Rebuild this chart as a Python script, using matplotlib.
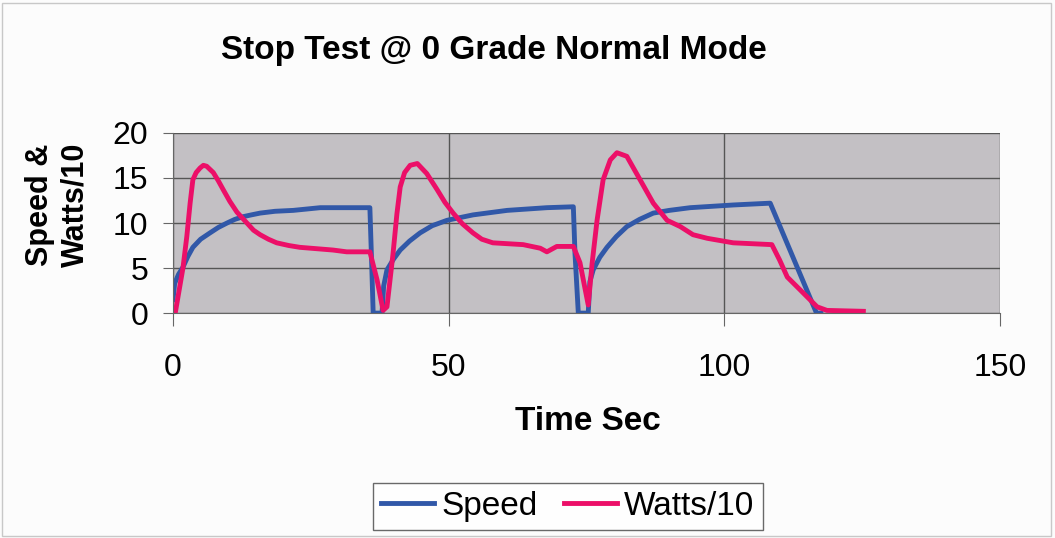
import matplotlib.pyplot as plt
import matplotlib.patches as patches

plt.rcParams['font.family'] = ['Liberation Sans', 'DejaVu Sans']

# speed trace
speed_t = [0, 0.3, 1.0, 1.8, 2.7, 3.6, 5.0, 6.7, 8.2, 9.8, 11.2, 12.7, 14.2, 15.8, 18.5,
           21.8, 26.7, 35.7, 36.0, 36.3,
           37.9, 38.2, 38.8, 40.0, 41.2, 42.9, 44.8, 47.0, 49.7, 54.4, 60.6, 67.8,
           72.6, 72.9, 73.5,
           75.3, 75.6, 76.2, 77.4, 78.7, 80.4, 82.3, 84.6, 87.1, 90.0, 93.8, 101.6,
           108.3, 116.7, 117.5]
speed_v = [1.5, 3.3, 4.3, 5.1, 6.3, 7.3, 8.2, 8.9, 9.5, 10.0, 10.4, 10.7, 10.9, 11.1, 11.3,
           11.4, 11.7, 11.7, 6.0, 0,
           0, 3.0, 4.8, 6.0, 7.0, 8.0, 8.9, 9.7, 10.3, 10.9, 11.4, 11.7,
           11.8, 6.6, 0,
           0, 3.5, 4.8, 6.2, 7.3, 8.5, 9.6, 10.4, 11.1, 11.4, 11.7, 12.0,
           12.2, 0, 0]

# watts / 10 trace
watts_t = [0.4, 1.8, 2.5, 3.1, 3.6, 4.2, 4.9, 5.5, 6.1, 7.3, 8.2, 9.1, 10.3, 11.6, 13.4,
           14.6, 15.8, 17.3, 18.8, 21.0, 23.0, 29.0, 31.5, 35.7, 37.0, 38.1, 38.8,
           39.9, 40.6, 41.2, 42.0, 43.0, 44.3, 46.0, 47.9, 49.3, 50.8, 52.5, 54.4,
           56.0, 58.0, 63.5, 66.6, 67.8, 69.6, 72.6, 73.8, 75.3, 76.0, 76.9, 78.0,
           79.3, 80.5, 82.3, 84.7, 87.1, 89.6, 92.0, 94.3, 96.9, 101.6, 108.6, 110.0,
           111.4, 113.7, 116.8, 118.6, 125.2]
watts_v = [0, 5.0, 8.5, 12.2, 14.8, 15.6, 16.1, 16.4, 16.3, 15.6, 14.7, 13.7, 12.4, 11.2, 10.0,
           9.2, 8.7, 8.2, 7.8, 7.5, 7.3, 7.0, 6.8, 6.8, 3.7, 0.3, 0.7,
           6.6, 11.0, 14.0, 15.6, 16.4, 16.6, 15.5, 13.7, 12.3, 11.1, 9.9, 8.9,
           8.2, 7.8, 7.6, 7.2, 6.8, 7.4, 7.4, 5.6, 0.9, 5.5, 10.3, 14.8,
           17.0, 17.8, 17.4, 14.8, 12.2, 10.3, 9.6, 8.7, 8.3, 7.8, 7.6, 5.9,
           4.0, 2.6, 0.7, 0.3, 0.2]

x_ticks = [0, 50, 100, 150]
y_ticks = [0, 5, 10, 15, 20]

fig = plt.figure(figsize=(10.55, 5.38), dpi=100)
fig.patch.set_facecolor('#fcfcfc')
fig.patches.append(patches.Rectangle((0.002, 0.004), 0.994, 0.99, transform=fig.transFigure,
                                     fill=False, edgecolor='#c8c8c8', lw=1))
ax = fig.add_axes([0.164, 0.418, 0.784, 0.335])
ax.set_facecolor('#c3c0c4')

ax.plot(speed_t, speed_v, color='#3158a8', lw=3.5, label='Speed', solid_joinstyle='round')
ax.plot(watts_t, watts_v, color='#ec0f68', lw=3.5, label='Watts/10', solid_joinstyle='round')

ax.set_xlim(0, 150)
ax.set_ylim(0, 20)
ax.set_xticks(x_ticks)
ax.set_yticks(y_ticks)
ax.grid(True, color='#555555', lw=1)
ax.set_axisbelow(True)
for s in ['top', 'right']:
    ax.spines[s].set_visible(False)
for s in ['left', 'bottom']:
    ax.spines[s].set_color('#666666')
ax.tick_params(axis='x', direction='out', length=9, pad=20, labelsize=23, color='#666666')
ax.tick_params(axis='y', direction='out', length=7, pad=11, labelsize=23, color='#666666')

fig.text(0.468, 0.907, 'Stop Test @ 0 Grade Normal Mode', fontsize=24, fontweight='bold',
         ha='center', va='center')
fig.text(0.557, 0.216, 'Time Sec', fontsize=24, fontweight='bold', ha='center', va='center')
fig.text(0.0545, 0.619, 'Speed &\nWatts/10', fontsize=22, fontweight='bold', rotation=90,
         ha='center', va='center', multialignment='center', linespacing=1.25)

leg = fig.legend(loc='center', bbox_to_anchor=(0.538, 0.0586), ncol=2, fontsize=24,
                 frameon=True, fancybox=False, handlelength=1.6, handletextpad=0.2,
                 columnspacing=0.8, borderpad=0.25)
leg.get_frame().set_edgecolor('#444444')
leg.get_frame().set_linewidth(1)
leg.get_frame().set_facecolor('white')

fig.savefig('out.png', dpi=100)
